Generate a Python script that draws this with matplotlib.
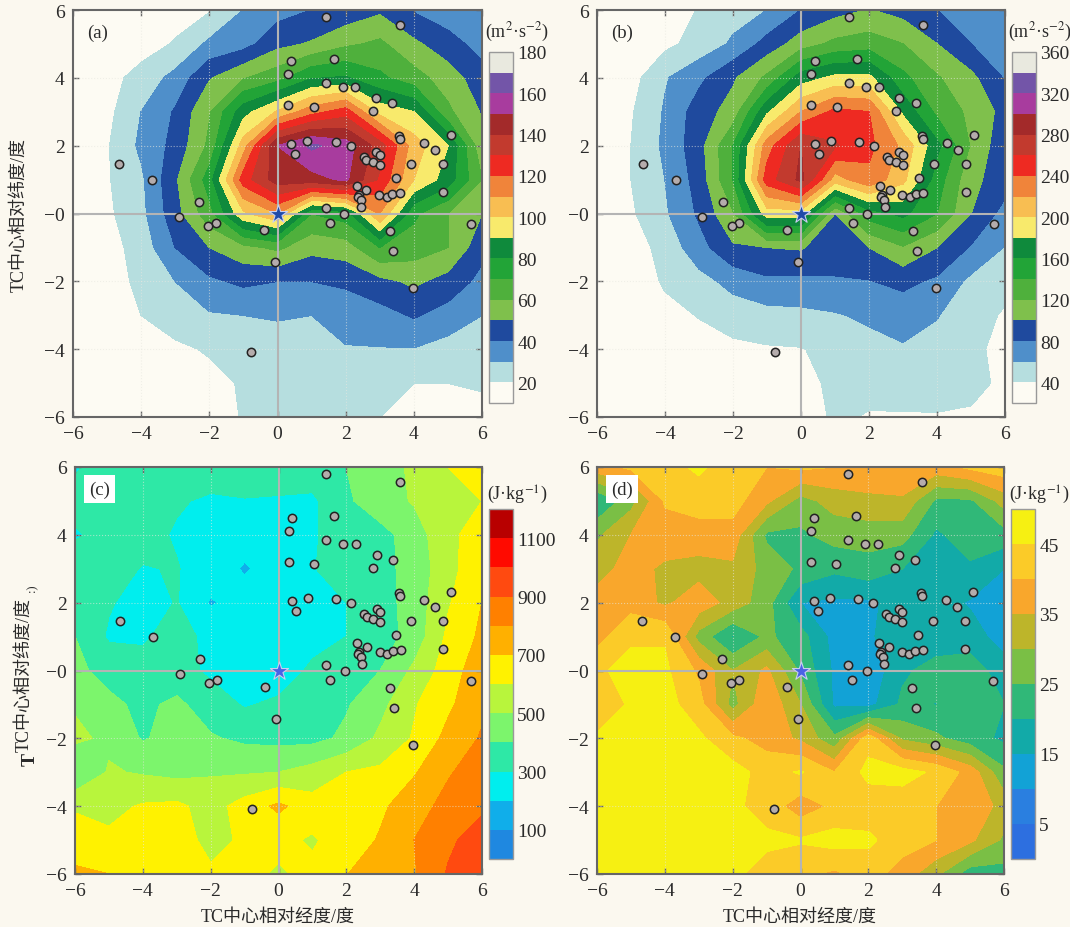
import numpy as np
import matplotlib
matplotlib.use('Agg')
import matplotlib.pyplot as plt
from matplotlib.colors import ListedColormap, BoundaryNorm

plt.rcParams['font.family'] = ['Liberation Serif', 'Noto Sans CJK SC']
plt.rcParams['mathtext.fontset'] = 'stix'

W, H = 1070, 928
BG = '#fbf8ef'

grid_x = [-6, -5, -4, -3, -2, -1, 0, 1, 2, 3, 4, 5, 6]
grid_y = [6, 5, 4, 3, 2, 1, 0, -1, -2, -3, -4, -5, -6]

# 每行对应 grid_y, 每列对应 grid_x
field_a = [
    [12, 12, 13, 15, 19, 30, 36, 40, 43, 48, 39, 34, 31],
    [12, 12, 15, 21, 32, 36, 47, 51, 58, 62, 52, 44, 36],
    [12, 16, 24, 33, 49, 59, 66, 79, 81, 72, 64, 55, 44],
    [12, 17, 30, 41, 59, 86, 101, 116, 125, 96, 90, 62, 49],
    [12, 19, 32, 43, 62, 105, 150, 162, 155, 135, 105, 90, 52],
    [12, 19, 28, 48, 75, 125, 145, 146, 152, 128, 100, 85, 60],
    [12, 18, 27, 46, 66, 98, 110, 70, 75, 110, 72, 60, 50],
    [12, 16, 24, 40, 50, 57, 62, 53, 55, 70, 65, 60, 43],
    [12, 14, 23, 30, 38, 42, 40, 40, 42, 47, 52, 46, 37],
    [12, 11, 20, 25, 29, 30, 31, 30, 33, 36, 41, 36, 30],
    [12, 11, 16, 18, 21, 23, 25, 26, 29.5, 29.5, 29.5, 26, 24],
    [12, 11, 12, 14, 17, 21, 24, 24, 23, 22, 20, 20, 21],
    [12, 11, 11, 12, 13, 21, 22, 23, 23, 20, 15, 15, 17],
]
field_b = [
    [24, 26, 30, 41, 52, 60, 80, 92, 101, 92, 80, 68, 62],
    [24, 28, 35, 47, 63, 87, 110, 125, 130, 120, 100, 80, 70],
    [24, 32, 58, 75, 97, 124, 170, 185, 185, 145, 122, 105, 78],
    [24, 38, 62, 90, 108, 176, 220, 245, 240, 175, 135, 115, 93],
    [24, 40, 64, 92, 140, 230, 280, 262, 245, 215, 165, 118, 85],
    [24, 40, 60, 88, 140, 250, 285, 210, 235, 205, 150, 105, 90],
    [24, 37, 57, 83, 118, 190, 190, 100, 150, 165, 140, 100, 72],
    [22, 30, 47, 72, 97, 100, 102, 85, 100, 118, 100, 78, 59],
    [22, 25, 43, 53, 66, 76, 75, 79, 79, 85, 76, 55, 45],
    [22, 22, 33, 41, 50, 53, 55, 58, 64, 68, 61, 47, 38],
    [22, 22, 22, 31, 35, 38, 39, 46, 52, 58, 53, 43, 36],
    [22, 22, 22, 22, 27, 34, 34, 44, 44, 45, 46, 44, 37],
    [22, 22, 22, 22, 25, 30, 33, 42, 39, 39, 39, 38, 37],
]
field_c = [
    [290, 340, 350, 350, 350, 350, 350, 360, 400, 450, 520, 600, 650],
    [330, 340, 340, 310, 285, 295, 290, 280, 385, 450, 510, 540, 600],
    [290, 330, 330, 290, 250, 240, 230, 290, 340, 370, 440, 590, 620],
    [340, 330, 295, 305, 250, 190, 240, 295, 340, 360, 445, 555, 695],
    [350, 310, 255, 305, 190, 240, 250, 260, 300, 360, 440, 590, 700],
    [400, 285, 285, 340, 270, 240, 230, 260, 300, 350, 440, 620, 720],
    [420, 370, 340, 340, 280, 220, 240, 320, 380, 400, 520, 650, 760],
    [490, 420, 380, 420, 350, 290, 320, 360, 390, 470, 590, 680, 780],
    [520, 480, 390, 440, 410, 380, 370, 370, 420, 520, 610, 730, 810],
    [390, 510, 490, 470, 490, 490, 500, 540, 600, 620, 690, 790, 850],
    [590, 570, 610, 620, 560, 640, 720, 640, 640, 680, 760, 830, 880],
    [640, 620, 640, 630, 580, 610, 620, 590, 640, 710, 800, 880, 950],
    [720, 700, 640, 650, 610, 620, 590, 620, 695, 780, 790, 910, 970],
]
field_d = [
    [38, 41, 43, 46, 42, 40, 41, 40, 38, 40, 38, 41, 43],
    [20, 28, 40.5, 42, 42, 36, 28, 32, 34, 34, 24, 24, 32],
    [29, 35, 38, 38, 38, 24, 24, 27, 27, 27, 19, 23, 23],
    [33, 37, 34, 33, 34, 28, 24, 21, 23, 20, 19, 19, 15],
    [37, 38, 34, 38, 33, 27, 15, 14, 14, 17, 17, 14.5, 12],
    [38, 44, 44.5, 28, 19.5, 26, 22, 13, 14, 19, 17, 17, 13],
    [44, 47, 46, 39, 30, 36, 24, 14, 11, 19, 22, 23, 17],
    [40, 46, 47, 42, 28, 39, 30, 14, 13, 21, 19.8, 22, 20],
    [46, 47, 47, 46, 41, 38, 34, 26, 43, 29, 26, 22, 19],
    [47, 48, 48, 47, 47, 43, 45.5, 40, 46.5, 47, 44, 38, 26],
    [47, 48, 48, 47, 46, 43, 37, 41, 42, 42, 40, 39, 33],
    [47, 48, 48, 48, 47, 46, 45.5, 47, 46, 42, 40, 36, 29],
    [46, 45, 47, 47, 46, 43, 41, 39, 42, 38, 31, 22, 23],
]

point_x = [1.41, 3.59, 0.40, 1.65, 0.30, 1.41, 1.91, 2.28, 2.89, 3.37, 2.80, 0.30, 1.06, 3.56, 3.59,
           4.30, 5.10, 4.61, 0.41, 0.88, 1.71, 2.15, 0.52, 2.53, 2.60, 2.79, 2.89, 3.00, 3.00, 3.91,
           4.85, 3.47, 2.32, 2.61, 2.38, 2.35, 2.44, 2.46, 2.98, 3.20, 3.37, 3.60, 4.85, 1.41, 1.95,
           1.53, 3.29, 3.40, 5.68, 3.98, -0.08, -0.40, -0.77, -1.81, -2.04, -2.30, -2.90, -3.69, -4.66]
point_y = [5.78, 5.57, 4.51, 4.55, 4.11, 3.84, 3.73, 3.72, 3.42, 3.26, 3.01, 3.20, 3.15, 2.29, 2.20,
           2.09, 2.31, 1.86, 2.05, 2.14, 2.11, 1.98, 1.75, 1.66, 1.57, 1.52, 1.81, 1.72, 1.44, 1.47,
           1.45, 1.05, 0.82, 0.70, 0.56, 0.49, 0.41, 0.20, 0.56, 0.48, 0.57, 0.61, 0.63, 0.17, 0.00,
           -0.28, -0.51, -1.10, -0.32, -2.21, -1.44, -0.50, -4.08, -0.28, -0.36, 0.33, -0.10, 1.00, 1.45]

colors_ab = ['#fdfbf3', '#b6dedf', '#4f8fca', '#1f4a9e', '#7fc04c', '#4fb03c', '#22a437', '#0f8a3c',
             '#f8ea6c', '#f8be52', '#f0843a', '#ee2a22', '#c23a2e', '#a32a2a', '#a83c9e', '#7355a8', '#e9e9df']
colors_c = ['#1f88e0', '#10aeea', '#00eeee', '#2ee8a6', '#7cf56c', '#b8f53c',
            '#fff200', '#ffb000', '#ff8000', '#ff4a10', '#ff0a00', '#b80000']
colors_d = ['#2d6fe0', '#2a7fe0', '#12a2d6', '#12aaa8', '#30b878', '#7abf45', '#bdb52a',
            '#f9a72c', '#fbcb28', '#f6f012']

levels_a = list(range(10, 181, 10))
levels_b = list(range(20, 361, 20))
levels_c = list(range(0, 1201, 100))
levels_d = list(range(0, 51, 5))

ticks = [-6, -4, -2, 0, 2, 4, 6]
xticklabels = ['\u22126', '\u22124', '\u22122', '0', '2', '4', '6']
yticklabels = ['\u22126', '\u22124', '\u22122', '\u22120', '2', '4', '6']
xlabel = 'TC中心相对经度/度'
ylabel = 'TC中心相对纬度/度'


def px_axes(fig, left, top, right, bottom):
    return fig.add_axes([left / W, 1 - bottom / H, (right - left) / W, (bottom - top) / H])


def draw_panel(fig, box, cbox, field, levels, colors, cticks, tag, unit, unit_y, star_color, tag_box):
    ax = px_axes(fig, *box)
    ax.set_facecolor(BG)
    cmap = ListedColormap(colors)
    norm = BoundaryNorm(levels, cmap.N)
    cf = ax.contourf(grid_x, grid_y, field, levels=levels, cmap=cmap, norm=norm)
    cf.set_edgecolor('face')
    cf.set_linewidth(0.3)

    # 经纬线
    for v in [-4, -2, 2, 4]:
        ax.axvline(v, color='#e8e8e0', lw=0.8, ls=':', alpha=0.6, zorder=3)
        ax.axhline(v, color='#e8e8e0', lw=0.8, ls=':', alpha=0.6, zorder=3)
    ax.axvline(0, color='#b4b4b4', lw=1.5, zorder=3)
    ax.axhline(0, color='#b4b4b4', lw=1.5, zorder=3)

    ax.scatter(point_x, point_y, s=36, c='#b5acac', edgecolors='#222222', linewidths=1.1, zorder=5)
    ax.scatter([0], [0], s=190, marker='*', c=star_color, edgecolors='#c8d0ee', linewidths=0.8, zorder=6)

    ax.set_xlim(-6, 6)
    ax.set_ylim(-6, 6)
    ax.set_xticks(ticks)
    ax.set_yticks(ticks)
    ax.set_xticklabels(xticklabels)
    ax.set_yticklabels(yticklabels)
    ax.tick_params(direction='in', length=4, width=1, color='#666666', labelsize=14,
                   labelcolor='#2a2a2a', top=True, right=True, pad=6)
    for s in ax.spines.values():
        s.set_color('#666666')
        s.set_linewidth(1.5)
        s.set_zorder(7)

    bbox = dict(fc='white', ec='none', pad=3.5) if tag_box else None
    ax.text(0.035, 0.946, tag, transform=ax.transAxes, fontsize=13.5, color='#2a2a2a',
            va='center', ha='left', bbox=bbox, zorder=8)

    cax = px_axes(fig, *cbox)
    cb = fig.colorbar(cf, cax=cax, ticks=cticks)
    cb.minorticks_off()
    cb.ax.tick_params(length=0, labelsize=14, labelcolor='#2a2a2a', pad=3)
    cb.ax.set_yticklabels([str(t) for t in cticks])
    cb.outline.set_edgecolor('#999999')
    cb.outline.set_linewidth(1.0)
    fig.text((cbox[0] + 28) / W, 1 - unit_y / H, unit, fontsize=13, color='#2a2a2a', ha='center', va='center')
    return ax


fig = plt.figure(figsize=(W / 100, H / 100), dpi=100, facecolor=BG)

unit_ms = '(m$^{2}$\u00b7s$^{-2}$)'
unit_jk = '(J\u00b7kg$^{-1}$)'

ax_a = draw_panel(fig, (73, 11, 482, 418), (489, 53, 513, 404), field_a, levels_a, colors_ab,
                  list(range(20, 181, 20)), '(a)', unit_ms, 32, '#1f4aa8', False)
ax_b = draw_panel(fig, (597, 11, 1005, 418), (1012, 53, 1036, 404), field_b, levels_b, colors_ab,
                  list(range(40, 361, 40)), '(b)', unit_ms, 32, '#1f4aa8', False)
ax_c = draw_panel(fig, (75, 468, 482, 875), (489, 510, 513, 860), field_c, levels_c, colors_c,
                  [100, 300, 500, 700, 900, 1100], '(c)', unit_jk, 495, '#4a62e6', True)
ax_d = draw_panel(fig, (597, 468, 1004, 875), (1011, 510, 1035, 860), field_d, levels_d, colors_d,
                  [5, 15, 25, 35, 45], '(d)', unit_jk, 495, '#4a62e6', True)

fig.text(19 / W, 1 - 215 / H, ylabel, rotation=90, fontsize=13, color='#2a2a2a', ha='center', va='center')
fig.text(24 / W, 1 - 675 / H, ylabel, rotation=90, fontsize=13, color='#2a2a2a', ha='center', va='center')
# (c) 图纵轴标题在原图里有重叠的残字
fig.text(30 / W, 1 - 760 / H, 'T', rotation=90, fontsize=14, fontweight='bold', color='#2a2a2a', ha='center', va='center')
fig.text(32 / W, 1 - 588 / H, ':)', rotation=90, fontsize=9, color='#2a2a2a', ha='center', va='center')
fig.text(278 / W, 1 - 917 / H, xlabel, fontsize=13, color='#2a2a2a', ha='center', va='center')
fig.text(800 / W, 1 - 917 / H, xlabel, fontsize=13, color='#2a2a2a', ha='center', va='center')

fig.savefig('out.png', dpi=100, facecolor=BG)
